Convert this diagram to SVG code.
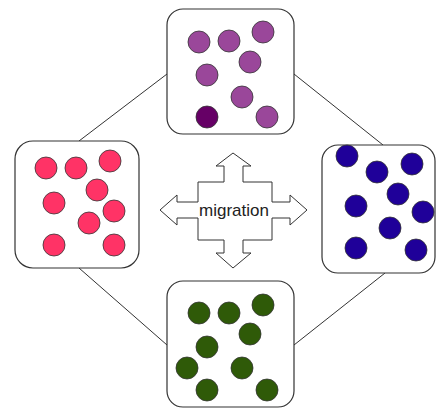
<svg xmlns="http://www.w3.org/2000/svg" width="438" height="409" viewBox="0 0 438 409">
<style>
.box{fill:#fff;stroke:#333;stroke-width:1.2}
.con{stroke:#333;stroke-width:1;fill:none}
.dot{stroke:#333;stroke-width:0.8}
.p{fill:#9a479a}
.pd{fill:#660066}
.r{fill:#ff3366}
.b{fill:#1f0099}
.g{fill:#2f5a08}
.lbl{font-family:"Liberation Sans",Arial,sans-serif;font-size:17px;fill:#222}
</style>
<rect width="438" height="409" fill="#fff"/>
<g id="connectors">
<line class="con" x1="167" y1="74" x2="79" y2="141"/>
<line class="con" x1="294" y1="74" x2="383" y2="145"/>
<line class="con" x1="79" y1="268" x2="167" y2="345"/>
<line class="con" x1="385" y1="273" x2="294" y2="345"/>
</g>
<g id="top">
<rect class="box" x="167" y="9" width="127" height="125" rx="16"/>
<circle class="dot p" cx="199" cy="42" r="11"/>
<circle class="dot p" cx="229" cy="41" r="11"/>
<circle class="dot p" cx="263" cy="32" r="11"/>
<circle class="dot p" cx="250" cy="62" r="11"/>
<circle class="dot p" cx="207" cy="75" r="11"/>
<circle class="dot p" cx="242" cy="97" r="11"/>
<circle class="dot pd" cx="207" cy="117" r="11"/>
<circle class="dot p" cx="267" cy="117" r="11"/>
</g>
<g id="left">
<rect class="box" x="15" y="141" width="124" height="127" rx="18"/>
<circle class="dot r" cx="46" cy="168" r="11"/>
<circle class="dot r" cx="76" cy="168" r="11"/>
<circle class="dot r" cx="110" cy="161" r="11"/>
<circle class="dot r" cx="97" cy="190" r="11"/>
<circle class="dot r" cx="54" cy="203" r="11"/>
<circle class="dot r" cx="114" cy="211" r="11"/>
<circle class="dot r" cx="89" cy="223" r="11"/>
<circle class="dot r" cx="54" cy="245" r="11"/>
<circle class="dot r" cx="114" cy="245" r="11"/>
</g>
<g id="right">
<rect class="box" x="322" y="145" width="113" height="128" rx="16"/>
<circle class="dot b" cx="347" cy="156" r="11"/>
<circle class="dot b" cx="377" cy="172" r="11"/>
<circle class="dot b" cx="412" cy="164" r="11"/>
<circle class="dot b" cx="398" cy="194" r="11"/>
<circle class="dot b" cx="356" cy="206" r="11"/>
<circle class="dot b" cx="423" cy="212" r="11"/>
<circle class="dot b" cx="390" cy="228" r="11"/>
<circle class="dot b" cx="356" cy="248" r="11"/>
<circle class="dot b" cx="416" cy="250" r="11"/>
</g>
<g id="bottom">
<rect class="box" x="167" y="281" width="127" height="126" rx="16"/>
<circle class="dot g" cx="199" cy="313" r="11"/>
<circle class="dot g" cx="229" cy="313" r="11"/>
<circle class="dot g" cx="263" cy="305" r="11"/>
<circle class="dot g" cx="250" cy="334" r="11"/>
<circle class="dot g" cx="207" cy="347" r="11"/>
<circle class="dot g" cx="187" cy="368" r="11"/>
<circle class="dot g" cx="242" cy="368" r="11"/>
<circle class="dot g" cx="207" cy="390" r="11"/>
<circle class="dot g" cx="267" cy="390" r="11"/>
</g>
<g id="migration">
<path fill="#fff" stroke="#333" stroke-width="1" d="M233,153 L251,166 L243,166 L243,182 L272,182 L272,202 L290,202 L290,195 L307,210 L290,225 L290,218 L272,218 L272,240 L243,240 L243,253 L251,253 L233,268 L216,253 L224,253 L224,240 L198,240 L198,218 L177,218 L177,225 L160,210 L177,195 L177,202 L198,202 L198,182 L224,182 L224,166 L216,166 Z"/>
<text class="lbl" x="234" y="216" text-anchor="middle">migration</text>
</g>
</svg>
